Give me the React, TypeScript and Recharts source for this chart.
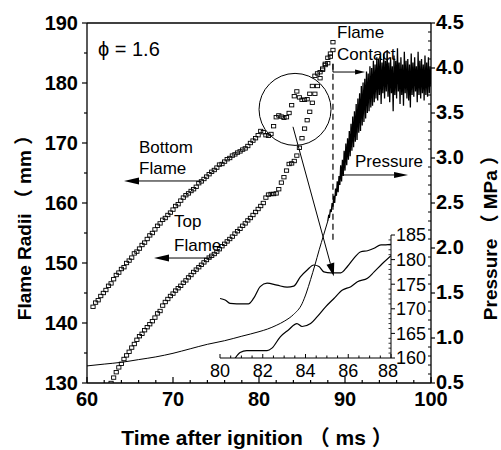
import React from "react";
import {
  ComposedChart,
  LineChart,
  Line,
  XAxis,
  YAxis,
  ReferenceLine,
  ReferenceDot,
} from "recharts";

const FONT = "'Liberation Sans', Arial, Helvetica, 'Noto Sans CJK SC', sans-serif";
const INK = "#000";

// camera frame times (ms), shared by both flame fronts
const frameTimes = [
  60.7, 61.0, 61.3, 61.6, 61.9, 62.2, 62.5, 62.8, 63.1, 63.4,
  63.7, 64.0, 64.3, 64.6, 64.9, 65.2, 65.5, 65.8, 66.1, 66.4,
  66.7, 67.0, 67.3, 67.6, 67.9, 68.2, 68.5, 68.8, 69.1, 69.4,
  69.7, 70.0, 70.3, 70.6, 70.9, 71.2, 71.5, 71.8, 72.1, 72.4,
  72.7, 73.0, 73.3, 73.6, 73.9, 74.2, 74.5, 74.8, 75.1, 75.4,
  75.7, 76.0, 76.3, 76.6, 76.9, 77.2, 77.5, 77.8, 78.1, 78.4,
  78.7, 79.0, 79.3, 79.6, 79.9, 80.2, 80.5, 80.8, 81.1, 81.4,
  81.7, 82.0, 82.3, 82.6, 82.9, 83.2, 83.5, 83.8, 84.1, 84.4,
  84.7, 85.0, 85.3, 85.6, 85.9, 86.2, 86.5, 86.8, 87.1, 87.4,
  87.7, 88.0, 88.3, 88.6,
];

// flame radii (mm)
const bottomFlame = [
  142.7, 143.4, 143.8, 144.5, 145.0, 145.5, 146.2, 146.6, 147.3, 148.0,
  148.4, 149.0, 149.3, 150.0, 150.4, 150.9, 151.6, 151.9, 152.4, 153.0,
  153.4, 154.0, 154.6, 155.0, 155.6, 156.2, 156.6, 157.2, 157.5, 158.0,
  158.4, 158.9, 159.5, 159.8, 160.4, 160.9, 161.3, 161.6, 162.0, 162.3,
  162.7, 163.3, 163.6, 164.0, 164.4, 164.8, 165.2, 165.5, 165.9, 166.4,
  166.5, 166.9, 167.3, 167.5, 167.9, 168.1, 168.4, 168.6, 168.9, 169.1,
  169.5, 170.0, 170.4, 170.8, 171.3, 172.0, 171.8, 171.3, 171.2, 171.5,
  172.8, 174.3, 174.6, 174.4, 174.2, 174.3, 175.0, 176.3, 177.8, 178.6,
  177.6, 177.2, 177.2, 177.3, 178.2, 179.5, 181.2, 181.6, 181.8, 182.4,
  183.0, 183.3, 184.4, 186.8,
];

const topFlame = [
  126.0, 126.6, 127.1, 127.7, 128.2, 128.8, 129.4, 130.0, 130.9, 131.8,
  132.6, 133.2, 134.0, 134.6, 135.2, 135.9, 136.5, 137.2, 137.8, 138.2,
  138.8, 139.3, 139.8, 140.3, 140.9, 141.6, 142.0, 142.9, 143.5, 144.0,
  144.5, 144.9, 145.4, 145.8, 146.2, 146.7, 147.1, 147.6, 148.0, 148.5,
  148.9, 149.3, 149.7, 150.1, 150.5, 150.9, 151.2, 151.5, 151.9, 152.3,
  152.8, 153.2, 153.6, 154.0, 154.4, 154.9, 155.3, 155.7, 156.2, 156.6,
  157.1, 157.5, 158.0, 158.5, 159.0, 159.5, 160.0, 160.9, 161.4, 161.5,
  161.5, 161.6, 162.3, 163.4, 164.3, 165.4, 166.5, 166.6, 167.0, 167.9,
  169.2, 170.8, 172.4, 173.8, 175.2, 176.7, 178.2, 179.5, 180.8, 182.2,
  183.2, 184.2, 184.9, 185.5,
];

// pressure (MPa): slow rise before flame contact
const riseTimes = [60, 62, 64, 66, 68, 70, 72, 74, 76, 78, 80, 81, 82, 83, 84, 85, 85.5, 86, 86.5, 87, 87.5, 88];
const risePressure = [0.69, 0.71, 0.73, 0.76, 0.79, 0.83, 0.88, 0.93, 0.97, 1.02, 1.07, 1.10, 1.14, 1.19, 1.26, 1.38, 1.50, 1.65, 1.81, 1.98, 2.14, 2.30];

// pressure (MPa): oscillating part after flame contact
const oscTimes = [
  88.0, 88.1, 88.2, 88.3, 88.4, 88.5, 88.6, 88.7, 88.8, 88.9,
  89.0, 89.1, 89.2, 89.3, 89.4, 89.5, 89.6, 89.7, 89.8, 89.9,
  90.0, 90.1, 90.2, 90.3, 90.4, 90.5, 90.6, 90.7, 90.8, 90.9,
  91.0, 91.1, 91.2, 91.3, 91.4, 91.5, 91.6, 91.7, 91.8, 91.9,
  92.0, 92.1, 92.2, 92.3, 92.4, 92.5, 92.6, 92.7, 92.8, 92.9,
  93.0, 93.1, 93.2, 93.3, 93.4, 93.5, 93.6, 93.7, 93.8, 93.9,
  94.0, 94.1, 94.2, 94.3, 94.4, 94.5, 94.6, 94.7, 94.8, 94.9,
  95.0, 95.1, 95.2, 95.3, 95.4, 95.5, 95.6, 95.7, 95.8, 95.9,
  96.0, 96.1, 96.2, 96.3, 96.4, 96.5, 96.6, 96.7, 96.8, 96.9,
  97.0, 97.1, 97.2, 97.3, 97.4, 97.5, 97.6, 97.7, 97.8, 97.9,
  98.0, 98.1, 98.2, 98.3, 98.4, 98.5, 98.6, 98.7, 98.8, 98.9,
  99.0, 99.1, 99.2, 99.3, 99.4, 99.5, 99.6, 99.7, 99.8, 99.9,
  100.0,
];
const oscPressure = [
  2.30, 2.36, 2.35, 2.43, 2.40, 2.50, 2.46, 2.58, 2.50, 2.66,
  2.58, 2.74, 2.62, 2.80, 2.70, 2.92, 2.74, 2.98, 2.80, 3.08,
  2.86, 3.16, 2.92, 3.22, 2.98, 3.30, 3.02, 3.38, 3.08, 3.46,
  3.12, 3.52, 3.18, 3.60, 3.20, 3.66, 3.28, 3.72, 3.30, 3.80,
  3.36, 3.84, 3.40, 3.88, 3.44, 3.96, 3.50, 3.94, 3.52, 4.02,
  3.56, 4.00, 3.58, 4.08, 3.62, 4.04, 3.66, 4.12, 3.64, 4.10,
  3.70, 4.14, 3.60, 4.06, 3.72, 4.16, 3.66, 4.08, 3.74, 4.20,
  3.68, 4.06, 3.62, 4.12, 3.72, 4.02, 3.52, 4.14, 3.70, 4.08,
  3.66, 4.22, 3.74, 4.06, 3.60, 4.12, 3.70, 4.04, 3.58, 4.18,
  3.72, 4.08, 3.66, 4.10, 3.64, 4.04, 3.56, 4.16, 3.70, 4.06,
  3.68, 4.12, 3.74, 4.02, 3.62, 4.18, 3.70, 4.08, 3.66, 4.10,
  3.72, 4.04, 3.64, 4.14, 3.70, 4.06, 3.68, 4.12, 3.72, 4.02,
  3.80,
];

// inset (80-88 ms) traces
const insetBottomTimes = [80.0, 80.24, 80.47, 80.78, 81.33, 81.57, 81.88, 82.2, 82.67, 83.14, 83.45, 83.76, 84.08, 84.39, 84.63, 84.86, 85.18, 85.65, 85.96, 86.27, 86.59, 86.9, 87.21, 87.53, 87.76, 88.0];
const insetBottomRadii = [172.1, 171.8, 171.1, 171.0, 171.0, 172.1, 174.5, 175.2, 174.8, 174.4, 174.6, 176.5, 177.9, 178.9, 178.6, 177.5, 177.3, 177.3, 178.6, 180.3, 181.6, 181.8, 182.3, 183.0, 183.0, 183.1];
const insetTopTimes = [80.7, 80.94, 81.25, 82.2, 82.43, 82.82, 83.2, 83.6, 83.84, 84.24, 84.55, 84.94, 85.33, 85.73, 86.12, 86.43, 86.9, 87.21, 87.6, 88.0];
const insetTopRadii = [159.9, 161.1, 161.5, 161.5, 162.0, 164.3, 165.7, 167.0, 166.4, 167.0, 168.4, 170.4, 172.1, 173.8, 174.5, 175.5, 176.2, 177.5, 179.2, 180.8];

// ticks
const xTicks = [60, 62, 64, 66, 68, 70, 72, 74, 76, 78, 80, 82, 84, 86, 88, 90, 92, 94, 96, 98, 100];
const radiusTicks = [130, 135, 140, 145, 150, 155, 160, 165, 170, 175, 180, 185, 190];
const pressureTicks = [
  0.5, 0.6, 0.7, 0.8, 0.9, 1.0, 1.1, 1.2, 1.3, 1.4, 1.5, 1.6, 1.7, 1.8, 1.9, 2.0, 2.1, 2.2, 2.3, 2.4, 2.5,
  2.6, 2.7, 2.8, 2.9, 3.0, 3.1, 3.2, 3.3, 3.4, 3.5, 3.6, 3.7, 3.8, 3.9, 4.0, 4.1, 4.2, 4.3, 4.4, 4.5,
];
const insetXTicks = [80, 80.5, 81, 81.5, 82, 82.5, 83, 83.5, 84, 84.5, 85, 85.5, 86, 86.5, 87, 87.5, 88];
const insetYTicks = [160, 161, 162, 163, 164, 165, 166, 167, 168, 169, 170, 171, 172, 173, 174, 175, 176, 177, 178, 179, 180, 181, 182, 183, 184, 185];

const bottomData = frameTimes.map((t, i) => ({ t, r: bottomFlame[i] }));
const topData = frameTimes.map((t, i) => ({ t, r: topFlame[i] }));
const riseData = riseTimes.map((t, i) => ({ t, p: risePressure[i] }));
const oscData = oscTimes.map((t, i) => ({ t, p: oscPressure[i] }));
const insetBottomData = insetBottomTimes.map((t, i) => ({ t, r: insetBottomRadii[i] }));
const insetTopData = insetTopTimes.map((t, i) => ({ t, r: insetTopRadii[i] }));

const isMultiple = (v: number, step: number) => Math.abs(v / step - Math.round(v / step)) < 1e-6;

const squareDot = (p: any) => (
  <rect
    key={`sq-${p.index}`}
    x={p.cx - 2.1}
    y={p.cy - 1.7}
    width={4.2}
    height={3.4}
    fill="none"
    stroke={INK}
    strokeWidth={0.9}
  />
);

const LeftTick = (p: any) => {
  const v = p.payload.value;
  const major = isMultiple(v, 10);
  return (
    <g>
      <line x1={p.x - (major ? 5 : 3)} x2={p.x} y1={p.y} y2={p.y} stroke={INK} strokeWidth={1.2} />
      {major && (
        <text x={p.x - 9} y={p.y} dy="0.36em" textAnchor="end" fontSize={20} fontWeight="bold" fontFamily={FONT} fill={INK}>
          {v}
        </text>
      )}
    </g>
  );
};

const RightTick = (p: any) => {
  const v = p.payload.value;
  const major = isMultiple(v, 0.5);
  return (
    <g>
      {major ? (
        <line x1={p.x} x2={p.x + 4} y1={p.y} y2={p.y} stroke={INK} strokeWidth={1.2} />
      ) : (
        <line x1={p.x - 3} x2={p.x} y1={p.y} y2={p.y} stroke={INK} strokeWidth={1} />
      )}
      {major && (
        <text x={p.x + 5} y={p.y - 1} dy="0.36em" textAnchor="start" fontSize={20} fontWeight="bold" fontFamily={FONT} fill={INK}>
          {v.toFixed(1)}
        </text>
      )}
    </g>
  );
};

const BottomTick = (p: any) => {
  const v = p.payload.value;
  const major = isMultiple(v, 10);
  return (
    <g>
      <line x1={p.x} x2={p.x} y1={p.y} y2={p.y - (major ? 6 : 3)} stroke={INK} strokeWidth={1.2} />
      {major && (
        <text x={p.x} y={p.y + 23} textAnchor="middle" fontSize={20} fontWeight="bold" fontFamily={FONT} fill={INK}>
          {v}
        </text>
      )}
    </g>
  );
};

const InsetBottomTick = (p: any) => {
  const v = p.payload.value;
  const major = isMultiple(v, 2);
  return (
    <g>
      <line x1={p.x} x2={p.x} y1={p.y} y2={p.y - (major ? 4 : 2.5)} stroke={INK} strokeWidth={1} />
      {major && (
        <text x={v === 88 ? p.x - 3 : p.x} y={p.y + 19} textAnchor="middle" fontSize={18} fontFamily={FONT} fill={INK}>
          {v}
        </text>
      )}
    </g>
  );
};

const InsetRightTick = (p: any) => {
  const v = p.payload.value;
  const major = isMultiple(v, 5);
  return (
    <g>
      {major ? (
        <line x1={p.x} x2={p.x + 4} y1={p.y} y2={p.y} stroke={INK} strokeWidth={1} />
      ) : (
        <line x1={p.x - 2.5} x2={p.x} y1={p.y} y2={p.y} stroke={INK} strokeWidth={0.8} />
      )}
      {major && (
        <text x={p.x + 5} y={p.y} dy="0.36em" textAnchor="start" fontSize={18} fontFamily={FONT} fill={INK}>
          {v}
        </text>
      )}
    </g>
  );
};

// arrow drawn along a reference segment
const arrow = (len: number, half: number) => (p: any) => {
  const { x1, y1, x2, y2 } = p;
  const d = Math.hypot(x2 - x1, y2 - y1) || 1;
  const ux = (x2 - x1) / d;
  const uy = (y2 - y1) / d;
  const bx = x2 - ux * len;
  const by = y2 - uy * len;
  return (
    <g>
      <line x1={x1} y1={y1} x2={bx} y2={by} stroke={INK} strokeWidth={1} />
      <polygon
        points={`${x2},${y2} ${bx - uy * half},${by + ux * half} ${bx + uy * half},${by - ux * half}`}
        fill={INK}
      />
    </g>
  );
};

// text note anchored at a data point (left, baseline)
const note = (lines: string[], size: number, lineGap: number) => (p: any) => (
  <text x={p.cx} y={p.cy} fontSize={size} fontFamily={FONT} fill={INK}>
    {lines.map((s, i) => (
      <tspan key={i} x={p.cx} dy={i === 0 ? 0 : lineGap}>
        {s}
      </tspan>
    ))}
  </text>
);

const xTitle = (p: any) => {
  const vb = p.viewBox;
  return (
    <text x={vb.x + vb.width / 2 - 2} y={vb.y + 62} textAnchor="middle" fontSize={21} fontWeight="bold" fontFamily={FONT} fill={INK}>
      Time after ignition （ ms ）
    </text>
  );
};

const leftTitle = (p: any) => {
  const vb = p.viewBox;
  const cx = vb.x - 3;
  const cy = vb.y + vb.height / 2 + 20;
  return (
    <text x={cx} y={cy} transform={`rotate(-90, ${cx}, ${cy})`} textAnchor="middle" dominantBaseline="central" fontSize={19} fontWeight="bold" fontFamily={FONT} fill={INK}>
      Flame Radii （ mm ）
    </text>
  );
};

const rightTitle = (p: any) => {
  const vb = p.viewBox;
  const cx = vb.x + 59;
  const cy = vb.y + vb.height / 2 + 30;
  return (
    <text x={cx} y={cy} transform={`rotate(-90, ${cx}, ${cy})`} textAnchor="middle" dominantBaseline="central" fontSize={19} fontWeight="bold" fontFamily={FONT} fill={INK}>
      Pressure （ MPa ）
    </text>
  );
};

const axisLine = { stroke: INK, strokeWidth: 1.3 };

export default function App() {
  return (
    <div style={{ position: "absolute", left: 0, top: 0, width: 501, height: 450, background: "#fff" }}>
      <div style={{ position: "absolute", left: 0, top: 0 }}>
        <ComposedChart width={501} height={450} margin={{ top: 23, right: 20, bottom: 37, left: 27 }}>
          <XAxis
            dataKey="t"
            type="number"
            domain={[60, 100]}
            allowDataOverflow
            ticks={xTicks}
            interval={0}
            tickSize={0}
            tickMargin={0}
            tickLine={false}
            axisLine={axisLine}
            tick={BottomTick}
            height={30}
            label={xTitle}
          />
          <YAxis
            yAxisId="r"
            type="number"
            domain={[130, 190]}
            allowDataOverflow
            ticks={radiusTicks}
            interval={0}
            tickSize={0}
            tickMargin={0}
            tickLine={false}
            axisLine={axisLine}
            tick={LeftTick}
            width={60}
            label={leftTitle}
          />
          <YAxis
            yAxisId="p"
            orientation="right"
            type="number"
            domain={[0.5, 4.5]}
            allowDataOverflow
            ticks={pressureTicks}
            interval={0}
            tickSize={0}
            tickMargin={0}
            tickLine={false}
            axisLine={axisLine}
            tick={RightTick}
            width={50}
            label={rightTitle}
          />

          <ReferenceLine yAxisId="r" y={190} stroke={INK} strokeWidth={1.3} />

          <Line yAxisId="p" data={riseData} dataKey="p" type="monotone" stroke={INK} strokeWidth={1} dot={false} activeDot={false} isAnimationActive={false} />
          <Line yAxisId="p" data={oscData} dataKey="p" type="linear" stroke={INK} strokeWidth={1.3} dot={false} activeDot={false} isAnimationActive={false} />
          <Line yAxisId="r" data={bottomData} dataKey="r" stroke="none" dot={squareDot} activeDot={false} isAnimationActive={false} />
          <Line yAxisId="r" data={topData} dataKey="r" stroke="none" dot={squareDot} activeDot={false} isAnimationActive={false} />

          <ReferenceDot yAxisId="r" x={84.19} y={175.6} r={36} fill="none" stroke={INK} strokeWidth={1} />
          <ReferenceLine yAxisId="r" segment={[{ x: 83.95, y: 172.7 }, { x: 88.7, y: 147.8 }]} shape={arrow(13, 4)} />
          <ReferenceLine yAxisId="r" segment={[{ x: 73.26, y: 163.67 }, { x: 64.3, y: 163.67 }]} shape={arrow(15, 3.5)} />
          <ReferenceLine yAxisId="r" segment={[{ x: 74.42, y: 150.83 }, { x: 67.79, y: 150.83 }]} shape={arrow(15, 3.5)} />
          <ReferenceLine yAxisId="r" segment={[{ x: 88.6, y: 183.2 }, { x: 88.6, y: 181.83 }]} stroke={INK} strokeWidth={1} />
          <ReferenceLine yAxisId="r" segment={[{ x: 88.6, y: 181.83 }, { x: 92.33, y: 181.83 }]} shape={arrow(10, 2.5)} />
          <ReferenceLine yAxisId="r" segment={[{ x: 89.65, y: 164.67 }, { x: 97.33, y: 164.67 }]} shape={arrow(14, 3)} />
          <ReferenceLine yAxisId="r" segment={[{ x: 88.6, y: 183.2 }, { x: 88.6, y: 153.8 }]} stroke={INK} strokeWidth={1.2} strokeDasharray="6 4" />

          <ReferenceDot yAxisId="r" x={61.28} y={184.5} r={1} shape={note(["ϕ = 1.6"], 20, 0)} />
          <ReferenceDot yAxisId="r" x={66.05} y={168.33} r={1} shape={note(["Bottom", "Flame"], 17, 21)} />
          <ReferenceDot yAxisId="r" x={70.12} y={155.92} r={1} shape={note(["Top", "Flame"], 17, 24)} />
          <ReferenceDot yAxisId="r" x={89.07} y={187.5} r={1} shape={note(["Flame", "Contact"], 17, 22)} />
          <ReferenceDot yAxisId="r" x={91.16} y={166} r={1} shape={note(["Pressure"], 17, 0)} />
        </ComposedChart>
      </div>

      <div style={{ position: "absolute", left: 0, top: 0, pointerEvents: "none" }}>
        <LineChart width={501} height={450} margin={{ top: 235, right: 70, bottom: 62, left: 220 }}>
          <XAxis
            dataKey="t"
            type="number"
            domain={[80, 88]}
            allowDataOverflow
            ticks={insetXTicks}
            interval={0}
            tickSize={0}
            tickMargin={0}
            tickLine={false}
            axisLine={{ stroke: INK, strokeWidth: 1 }}
            tick={InsetBottomTick}
            height={30}
          />
          <YAxis
            orientation="right"
            type="number"
            domain={[160, 185]}
            allowDataOverflow
            ticks={insetYTicks}
            interval={0}
            tickSize={0}
            tickMargin={0}
            tickLine={false}
            axisLine={{ stroke: INK, strokeWidth: 1 }}
            tick={InsetRightTick}
            width={40}
          />
          <Line data={insetBottomData} dataKey="r" type="monotone" stroke={INK} strokeWidth={1.2} dot={false} activeDot={false} isAnimationActive={false} />
          <Line data={insetTopData} dataKey="r" type="monotone" stroke={INK} strokeWidth={1.2} dot={false} activeDot={false} isAnimationActive={false} />
        </LineChart>
      </div>
    </div>
  );
}
